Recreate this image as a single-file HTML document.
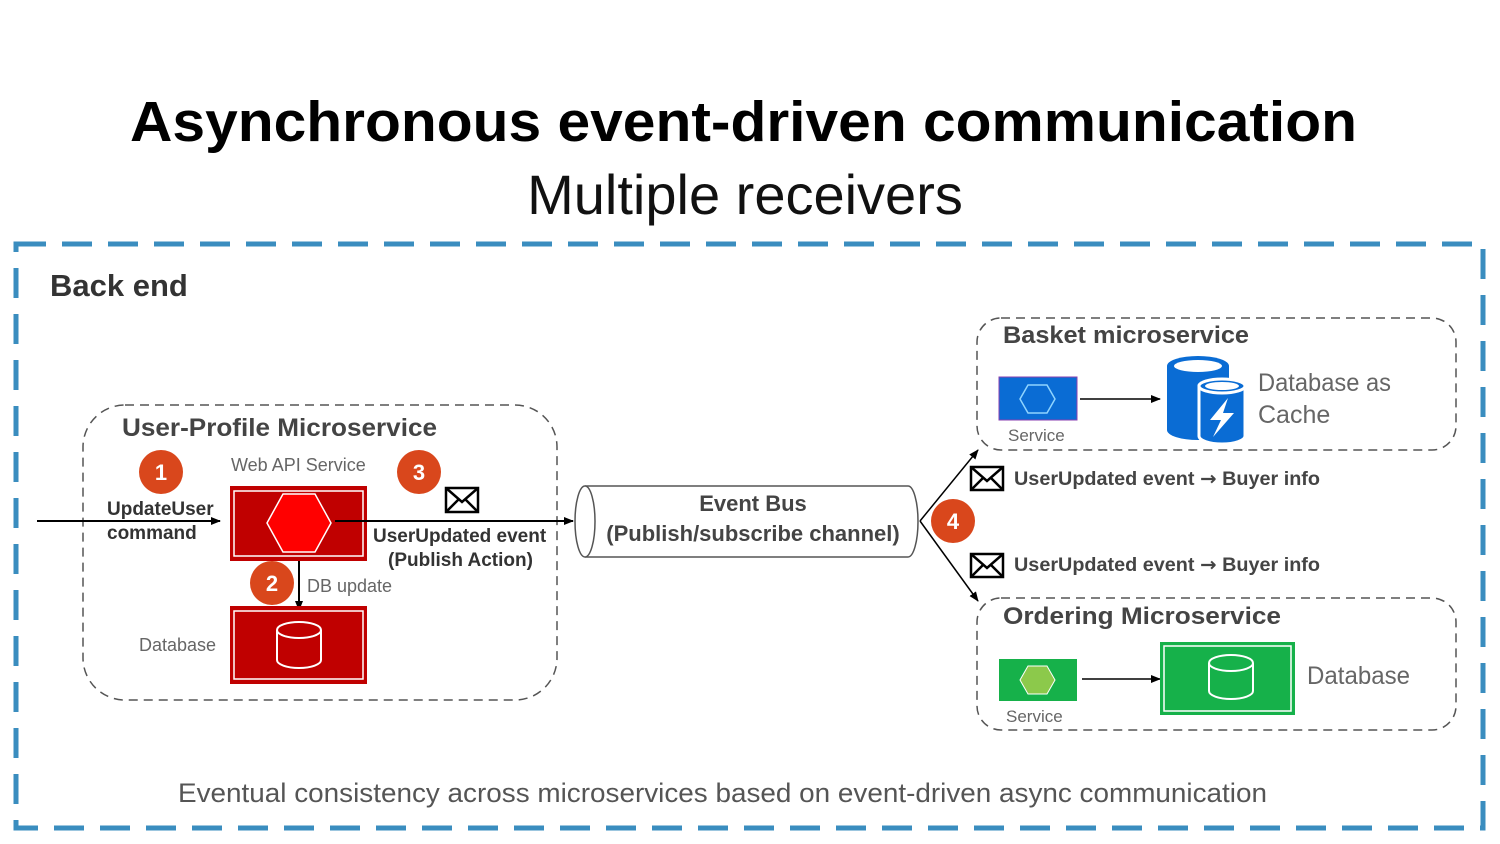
<!DOCTYPE html>
<html><head><meta charset="utf-8"><style>html,body{margin:0;padding:0;background:#fff}svg{display:block}</style></head>
<body>
<svg width="1500" height="844" viewBox="0 0 1500 844" xmlns="http://www.w3.org/2000/svg" font-family="'Liberation Sans', sans-serif">
<defs>
<marker id="ah" markerWidth="10" markerHeight="10" refX="9" refY="5" orient="auto" markerUnits="userSpaceOnUse"><path d="M0,1 L10,5 L0,9 z" fill="#000"/></marker>
</defs>
<text x="130" y="141" textLength="1227" lengthAdjust="spacingAndGlyphs" font-size="57" font-weight="bold" fill="#000">Asynchronous event-driven communication</text>
<text x="745" y="214" text-anchor="middle" font-size="56" fill="#111" font-weight="300">Multiple receivers</text>
<rect x="16" y="244" width="1467" height="584" fill="none" stroke="#3a8dbf" stroke-width="5" stroke-dasharray="30 16"/>
<text x="50" y="296" font-size="31" font-weight="bold" fill="#333">Back end</text>

<rect x="83" y="405" width="474" height="295" rx="42" fill="none" stroke="#555" stroke-width="1.5" stroke-dasharray="9 6"/>
<text x="122" y="436" textLength="315" lengthAdjust="spacingAndGlyphs" font-size="25" font-weight="bold" fill="#444">User-Profile Microservice</text>
<text x="231" y="471" font-size="18" fill="#666">Web API Service</text>
<text x="107" y="515" font-size="19" font-weight="bold" fill="#333">UpdateUser</text>
<text x="107" y="539" font-size="19" font-weight="bold" fill="#333">command</text>
<line x1="37" y1="521" x2="220" y2="521" stroke="#000" stroke-width="2" marker-end="url(#ah)"/>
<rect x="230" y="486" width="137" height="75" fill="#c00000"/>
<rect x="234" y="491" width="129" height="65" fill="none" stroke="#fff" stroke-width="1.5"/>
<polygon points="267,523 283,494 315,494 331,523 315,552 283,552" fill="#ff0000" stroke="#fff" stroke-width="1.5"/>
<line x1="335" y1="521" x2="573" y2="521" stroke="#000" stroke-width="2" marker-end="url(#ah)"/>
<text x="373" y="542" font-size="19" font-weight="bold" fill="#333">UserUpdated event</text>
<text x="388" y="566" font-size="19" font-weight="bold" fill="#333">(Publish Action)</text>
<g stroke="#000" stroke-width="2.5" fill="#fff"><rect x="446" y="488" width="32" height="24"/><path d="M446,488 L462,502 L478,488 M446,512 L459,499 M478,512 L465,499" fill="none"/></g>
<line x1="299" y1="561" x2="299" y2="610" stroke="#000" stroke-width="2" marker-end="url(#ah)"/>
<text x="307" y="592" font-size="18" fill="#666">DB update</text>
<rect x="230" y="606" width="137" height="78" fill="#c00000"/>
<rect x="234" y="611" width="129" height="68" fill="none" stroke="#fff" stroke-width="1.5"/>
<g fill="none" stroke="#fff" stroke-width="2"><path d="M277,630 L277,660 A22,8 0 0 0 321,660 L321,630"/><ellipse cx="299" cy="630" rx="22" ry="8"/></g>
<text x="139" y="651" font-size="18" fill="#666">Database</text>
<g font-size="22" font-weight="bold" fill="#fff" text-anchor="middle">
<circle cx="161" cy="472" r="22" fill="#d9471c"/><text x="161" y="480">1</text>
<circle cx="419" cy="472" r="22" fill="#d9471c"/><text x="419" y="480">3</text>
<circle cx="272" cy="583" r="22" fill="#d9471c"/><text x="272" y="591">2</text>
<circle cx="953" cy="521" r="22" fill="#d9471c"/><text x="953" y="529">4</text>
</g>

<path d="M585,486 L908,486 A10,35.5 0 0 1 908,557 L585,557" fill="#fff" stroke="#555" stroke-width="1.5"/>
<ellipse cx="585" cy="521.5" rx="10" ry="35.5" fill="#fff" stroke="#555" stroke-width="1.5"/>
<text x="753" y="511" text-anchor="middle" font-size="22" font-weight="bold" fill="#444">Event Bus</text>
<text x="753" y="541" text-anchor="middle" font-size="22" font-weight="bold" fill="#444">(Publish/subscribe channel)</text>
<line x1="920" y1="521" x2="978" y2="450" stroke="#000" stroke-width="1.5" marker-end="url(#ah)"/>
<line x1="920" y1="521" x2="978" y2="601" stroke="#000" stroke-width="1.5" marker-end="url(#ah)"/>
<g stroke="#000" stroke-width="2.5" fill="#fff">
<rect x="971" y="467" width="32" height="23"/><path d="M971,467 L987,481 L1003,467 M971,490 L984,477 M1003,490 L990,477" fill="none"/>
<rect x="971" y="554" width="32" height="23"/><path d="M971,554 L987,568 L1003,554 M971,577 L984,564 M1003,577 L990,564" fill="none"/>
</g>
<text x="1014" y="485" font-size="19" font-weight="bold" fill="#444" textLength="306" lengthAdjust="spacingAndGlyphs">UserUpdated event <tspan font-family="'DejaVu Sans', sans-serif">→</tspan> Buyer info</text>
<text x="1014" y="571" font-size="19" font-weight="bold" fill="#444" textLength="306" lengthAdjust="spacingAndGlyphs">UserUpdated event <tspan font-family="'DejaVu Sans', sans-serif">→</tspan> Buyer info</text>

<rect x="977" y="318" width="479" height="132" rx="24" fill="none" stroke="#555" stroke-width="1.5" stroke-dasharray="9 6"/>
<text x="1003" y="343" font-size="24" font-weight="bold" fill="#444" textLength="246" lengthAdjust="spacingAndGlyphs">Basket microservice</text>
<rect x="999" y="377" width="78" height="43" fill="#0a6cd4" stroke="#8a3fb0" stroke-width="1"/>
<polygon points="1020,399 1028,385 1047,385 1055,399 1047,413 1028,413" fill="none" stroke="#8fd4ff" stroke-width="1.5"/>
<text x="1008" y="441" font-size="17" fill="#666">Service</text>
<line x1="1080" y1="399" x2="1160" y2="399" stroke="#000" stroke-width="1.5" marker-end="url(#ah)"/>
<path d="M1167,366 L1167,430 A31,10 0 0 0 1229,430 L1229,366 A31,10 0 0 0 1167,366z" fill="#0a6cd4"/>
<ellipse cx="1198" cy="366" rx="24" ry="6" fill="#fff"/>
<path d="M1199,386 L1199,436 A23,8 0 0 0 1245,436 L1245,386 z" fill="#0a6cd4" stroke="#fff" stroke-width="3"/>
<ellipse cx="1222" cy="386" rx="23" ry="7" fill="#0a6cd4" stroke="#fff" stroke-width="3"/>
<ellipse cx="1222" cy="386" rx="17" ry="4" fill="#fff"/>
<polygon points="1228,398 1210,420 1221,420 1213,437 1234,413 1223,413" fill="#fff"/>
<text x="1258" y="391" font-size="25" fill="#666" textLength="133" lengthAdjust="spacingAndGlyphs">Database as</text>
<text x="1258" y="423" font-size="25" fill="#666">Cache</text>

<rect x="977" y="598" width="479" height="132" rx="24" fill="none" stroke="#555" stroke-width="1.5" stroke-dasharray="9 6"/>
<text x="1003" y="624" font-size="24" font-weight="bold" fill="#444" textLength="278" lengthAdjust="spacingAndGlyphs">Ordering Microservice</text>
<rect x="999" y="659" width="78" height="42" fill="#16b14a"/>
<polygon points="1020,680 1028,666 1047,666 1055,680 1047,694 1028,694" fill="#8cc94b" stroke="#fff" stroke-width="1"/>
<text x="1006" y="722" font-size="17" fill="#666">Service</text>
<line x1="1082" y1="679" x2="1160" y2="679" stroke="#000" stroke-width="1.5" marker-end="url(#ah)"/>
<rect x="1160" y="642" width="135" height="73" fill="#16b14a"/>
<rect x="1164" y="646" width="127" height="65" fill="none" stroke="#fff" stroke-width="1.5"/>
<g fill="none" stroke="#fff" stroke-width="2"><path d="M1209,663 L1209,691 A22,8 0 0 0 1253,691 L1253,663"/><ellipse cx="1231" cy="663" rx="22" ry="8"/></g>
<text x="1307" y="684" font-size="25" fill="#666" textLength="103" lengthAdjust="spacingAndGlyphs">Database</text>

<text x="178" y="802" textLength="1089" lengthAdjust="spacingAndGlyphs" font-size="27" fill="#555">Eventual consistency across microservices based on event-driven async communication</text>
</svg>
</body></html>
